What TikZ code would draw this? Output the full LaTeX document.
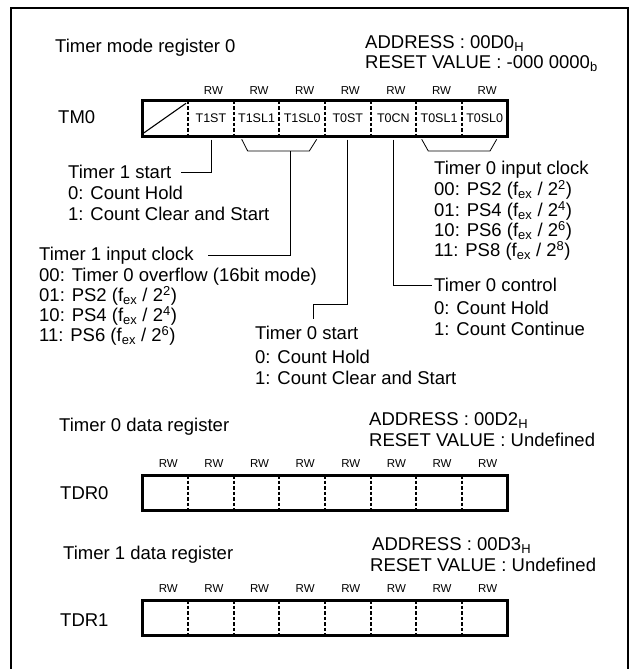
\documentclass[tikz,border=0pt]{standalone}
\usepackage{fontspec}
\setmainfont{Liberation Sans}
\usetikzlibrary{calc}
\begin{document}
\begin{tikzpicture}[x=1pt,y=-1pt,
  txt/.style={anchor=base west, inner sep=0pt, font=\fontsize{18.5}{20}\selectfont},
  rw/.style={inner sep=0pt, font=\fontsize{11.5}{12}\selectfont},
  bitlbl/.style={inner sep=0pt, minimum width=45.6pt, minimum height=35.5pt, font=\fontsize{12.5}{13}\selectfont},
  reg/.style={draw, line width=3pt, outer sep=0pt, minimum width=365pt, minimum height=35.5pt, inner sep=0pt},
  divider/.style={line width=1.8pt, dash pattern=on 3.5pt off 2pt},
  conn/.style={line width=0.8pt},
  frame/.style={line width=2.3pt}]
\useasboundingbox (0,0) rectangle (631,669);
\draw[frame] (11,669) -- (11,8) -- (628,8) -- (628,669);

% ---- Timer mode register 0
\node[txt] (title0) at (55,52.4) {Timer mode register 0};
\node[txt] (addr0) at (365,48.5) {ADDRESS : 00D0\textsubscript{H}};
\node[txt] (rst0) at (365,68.5) {RESET VALUE : -000 0000\textsubscript{b}};
\foreach \i in {1,...,7} \node[rw] (rwa\i) at ({167.8+45.625*\i},91) {RW};
\node[txt] (tm0lbl) at (58,123) {TM0};
\node[reg] (tm0) at (325,118.25) {};
\foreach \i in {1,...,7}
  \draw[divider] ([xshift={45.625pt*\i}]tm0.north west) -- ([xshift={45.625pt*\i}]tm0.south west);
\draw[line width=1.1pt] ([shift={(0.8,-2.7)}]tm0.south west) -- ([shift={(43.5,2.8)}]tm0.north west);
\foreach \i/\t in {1/T1ST,2/T1SL1,3/T1SL0,4/T0ST,5/T0CN,6/T0SL1,7/T0SL0}
  \node[bitlbl] (c\i) at ({165.3+45.625*\i},118.25) {\t};

% brackets
\draw[conn] (241.7,139.3) -- (247.7,151) -- (309.3,151) -- (316.7,139.3);
\coordinate (br1) at (290.5,151);
\draw[conn] (421.7,139.3) -- (428.3,151) -- (490,151) -- (496.7,139.3);

% description texts
\node[txt] (t1s)  at (68,178.9) {Timer 1 start};
\node[txt] (t1s0) at (68,199.9) {0: Count Hold};
\node[txt] (t1s1) at (68,220.6) {1: Count Clear and Start};

\node[txt] (t1ic)  at (39,260.6) {Timer 1 input clock};
\node[txt] (t1ic0) at (39,281.6) {00: Timer 0 overflow (16bit mode)};
\node[txt] (t1ic1) at (39,301.6) {01: PS2 (f\textsubscript{ex} / 2\textsuperscript{2})};
\node[txt] (t1ic2) at (39,321.6) {10: PS4 (f\textsubscript{ex} / 2\textsuperscript{4})};
\node[txt] (t1ic3) at (39,341.6) {11: PS6 (f\textsubscript{ex} / 2\textsuperscript{6})};

\node[txt] (t0ic)  at (434,174.6) {Timer 0 input clock};
\node[txt] (t0ic0) at (434,195.9) {00: PS2 (f\textsubscript{ex} / 2\textsuperscript{2})};
\node[txt] (t0ic1) at (434,216.6) {01: PS4 (f\textsubscript{ex} / 2\textsuperscript{4})};
\node[txt] (t0ic2) at (434,236.6) {10: PS6 (f\textsubscript{ex} / 2\textsuperscript{6})};
\node[txt] (t0ic3) at (434,256.6) {11: PS8 (f\textsubscript{ex} / 2\textsuperscript{8})};

\node[txt] (t0c)  at (434,291.6) {Timer 0 control};
\node[txt] (t0c0) at (434,314.2) {0: Count Hold};
\node[txt] (t0c1) at (434,335.2) {1: Count Continue};

\node[txt] (t0s)  at (255,339.9) {Timer 0 start};
\node[txt] (t0s0) at (255,363.6) {0: Count Hold};
\node[txt] (t0s1) at (255,384.2) {1: Count Clear and Start};

% connectors
\draw[conn] ([yshift=-3.3pt]c1.south) |- ([xshift=9pt]t1s.east);
\draw[conn] (br1) |- ([xshift=14pt]t1ic.east);
\coordinate (k4) at (313,304);
\draw[conn] ([yshift=-3.3pt]c4.south) |- (k4) -- ($(t0s.north -| k4)+(0,-6.8)$);
\draw[conn] ([yshift=-3.3pt]c5.south) |- ([xshift=-2.5pt]t0c.west);

% ---- Timer 0 data register
\node[txt] (title1) at (59,431.6) {Timer 0 data register};
\node[txt] (addr1) at (369,425.6) {ADDRESS : 00D2\textsubscript{H}};
\node[txt] (rst1) at (369,446.2) {RESET VALUE : Undefined};
\foreach \i in {0,...,7} \node[rw] (rwb\i) at ({168.3+45.625*\i},463.3) {RW};
\node[txt] (tdr0lbl) at (60,499.9) {TDR0};
\node[reg] (tdr0) at (325,492.75) {};
\foreach \i in {1,...,7}
  \draw[divider] ([xshift={45.625pt*\i}]tdr0.north west) -- ([xshift={45.625pt*\i}]tdr0.south west);

% ---- Timer 1 data register
\node[txt] (title2) at (63,559.6) {Timer 1 data register};
\node[txt] (addr2) at (372,550.1) {ADDRESS : 00D3\textsubscript{H}};
\node[txt] (rst2) at (370,571.6) {RESET VALUE : Undefined};
\foreach \i in {0,...,7} \node[rw] (rwc\i) at ({168.3+45.625*\i},588.3) {RW};
\node[txt] (tdr1lbl) at (60,626.6) {TDR1};
\node[reg] (tdr1) at (325,617.8) {};
\foreach \i in {1,...,7}
  \draw[divider] ([xshift={45.625pt*\i}]tdr1.north west) -- ([xshift={45.625pt*\i}]tdr1.south west);
\end{tikzpicture}
\end{document}
